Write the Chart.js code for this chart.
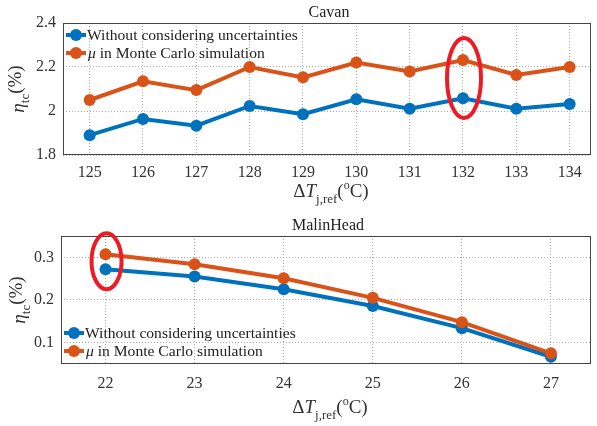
<!DOCTYPE html>
<html>
<head>
<meta charset="utf-8">
<script src="https://cdn.jsdelivr.net/npm/chart.js@4"></script>
<style>
  html, body { margin: 0; padding: 0; background: #fff; }
  #wrap { position: relative; width: 597px; height: 426px; overflow: hidden; }
  #c1 { position: absolute; left: 0; top: 0; }
  #c2 { position: absolute; left: 0; top: 200px; }
</style>
</head>
<body>
<div id="wrap">
  <canvas id="c1" width="597" height="212"></canvas>
  <canvas id="c2" width="597" height="226"></canvas>
</div>
<script>
// Cavan panel
const cavanX = [125, 126, 127, 128, 129, 130, 131, 132, 133, 134];
const cavanWithout = [1.890, 1.964, 1.933, 2.023, 1.985, 2.053, 2.010, 2.058, 2.010, 2.032];
const cavanMu = [2.050, 2.135, 2.095, 2.200, 2.153, 2.220, 2.180, 2.232, 2.164, 2.200];
const cavanYTicks = [1.8, 2, 2.2, 2.4];

// MalinHead panel
const malinX = [22, 23, 24, 25, 26, 27];
const malinWithout = [0.272, 0.255, 0.225, 0.186, 0.134, 0.067];
const malinMu = [0.307, 0.284, 0.251, 0.205, 0.148, 0.075];
const malinYTicks = [0.1, 0.2, 0.3];

const seriesNames = ['Without considering uncertainties', 'in Monte Carlo simulation'];

const BLUE = '#0072BD';
const ORANGE = '#D95319';
const SERIF = '"Liberation Serif", "Times New Roman", serif';
const TXT = '#333';

// draw a run of text pieces (font/offset per piece), centred on x
function drawRich(ctx, parts, x, y) {
    let total = 0;
    parts.forEach(p => { ctx.font = p.font; total += ctx.measureText(p.t).width; });
    let cx = x - total / 2;
    ctx.textAlign = 'left';
    ctx.textBaseline = 'alphabetic';
    parts.forEach(p => {
        ctx.font = p.font;
        ctx.fillText(p.t, cx, y + (p.dy || 0));
        cx += ctx.measureText(p.t).width;
    });
}

const xTitleParts = [
    { t: '\u0394', font: '19px ' + SERIF },
    { t: 'T', font: 'italic 19px ' + SERIF },
    { t: 'j,ref', font: '13px ' + SERIF, dy: 6 },
    { t: '(', font: '19px ' + SERIF },
    { t: 'o', font: '12px ' + SERIF, dy: -8 },
    { t: 'C)', font: '19px ' + SERIF },
];
const yTitleParts = [
    { t: '\u03B7', font: 'italic 19px ' + SERIF },
    { t: 'tc', font: '13px ' + SERIF, dy: 5 },
    { t: '(%)', font: '19px ' + SERIF, dy: -3 },
];

function makeDecor(opts) {
    return {
        id: 'decor',
        beforeDatasetsDraw(chart) {
            const { ctx, chartArea: a } = chart;
            ctx.save();
            ctx.strokeStyle = '#444';
            ctx.lineWidth = 1;
            ctx.strokeRect(a.left + 0.5, a.top + 0.5, a.right - a.left - 1, a.bottom - a.top - 1);
            ctx.restore();
        },
        afterDatasetsDraw(chart) {
            const { ctx, chartArea: a, scales } = chart;
            ctx.save();
            // red highlight ellipse
            const ex = scales.x.getPixelForValue(opts.ellipse.x);
            const ey = scales.y.getPixelForValue(opts.ellipse.y);
            ctx.strokeStyle = '#ED1C24';
            ctx.lineWidth = 4;
            ctx.beginPath();
            ctx.ellipse(ex + 1, ey, opts.ellipse.rx, opts.ellipse.ry, 0, 0, Math.PI * 2);
            ctx.stroke();

            // legend
            const lx = a.left + 3;
            const colors = [BLUE, ORANGE];
            colors.forEach((c, i) => {
                const ly = opts.legendY + i * 18;
                ctx.strokeStyle = c;
                ctx.lineWidth = 4;
                ctx.beginPath();
                ctx.moveTo(lx, ly);
                ctx.lineTo(lx + 20, ly);
                ctx.stroke();
                ctx.fillStyle = c;
                ctx.beginPath();
                ctx.arc(lx + 10, ly, 6, 0, Math.PI * 2);
                ctx.fill();
                ctx.fillStyle = '#222';
                ctx.textBaseline = 'middle';
                ctx.textAlign = 'left';
                if (i === 0) {
                    ctx.font = '15.6px ' + SERIF;
                    ctx.fillText(seriesNames[0], lx + 21, ly + 1);
                } else {
                    ctx.font = 'italic 15.6px ' + SERIF;
                    ctx.fillText('\u03BC', lx + 22, ly + 1);
                    const w = ctx.measureText('\u03BC ').width;
                    ctx.font = '15.6px ' + SERIF;
                    ctx.fillText(seriesNames[1], lx + 22 + w, ly + 1);
                }
            });

            // panel title
            ctx.fillStyle = '#222';
            ctx.font = '16px ' + SERIF;
            ctx.textAlign = 'center';
            ctx.textBaseline = 'alphabetic';
            ctx.fillText(opts.title, (a.left + a.right) / 2 + 2, a.top - 6);

            // axis titles
            ctx.fillStyle = TXT;
            drawRich(ctx, xTitleParts, (a.left + a.right) / 2 + 4, opts.xTitleY);
            ctx.translate(opts.yTitleX, (a.top + a.bottom) / 2);
            ctx.rotate(-Math.PI / 2);
            drawRich(ctx, yTitleParts, 0, 0);
            ctx.restore();
        }
    };
}

function buildChart(canvas, cfg) {
    return new Chart(canvas, {
        type: 'line',
        data: {
            datasets: [{
                label: seriesNames[1],
                data: cfg.xs.map((x, i) => ({ x: x, y: cfg.mu[i] })),
                borderColor: ORANGE,
                backgroundColor: ORANGE,
                borderWidth: 4,
                pointRadius: 6,
                pointBorderWidth: 0,
                tension: 0,
            }, {
                label: seriesNames[0],
                data: cfg.xs.map((x, i) => ({ x: x, y: cfg.without[i] })),
                borderColor: BLUE,
                backgroundColor: BLUE,
                borderWidth: 4,
                pointRadius: 6,
                pointBorderWidth: 0,
                tension: 0,
            }],
        },
        options: {
            responsive: false,
            animation: false,
            layout: { padding: { top: cfg.top, right: 5, left: 0, bottom: 0 } },
            plugins: {
                legend: { display: false },
                tooltip: { enabled: false },
                title: { display: false },
            },
            scales: {
                x: {
                    type: 'linear',
                    min: cfg.xMin,
                    max: cfg.xMax,
                    afterBuildTicks: s => { s.ticks = cfg.xs.map(v => ({ value: v })); },
                    afterFit: s => { s.height = cfg.xHeight; },
                    ticks: {
                        color: TXT,
                        font: { family: SERIF, size: 16 },
                        padding: cfg.xPad,
                        maxRotation: 0,
                        callback: v => String(v),
                    },
                    grid: { color: '#aaa', drawTicks: false, lineWidth: 1 },
                    border: { display: false, dash: [1, 2] },
                },
                y: {
                    min: cfg.yMin,
                    max: cfg.yMax,
                    afterBuildTicks: s => { s.ticks = cfg.yTicks.map(v => ({ value: v })); },
                    afterFit: s => { s.width = cfg.yWidth; },
                    ticks: {
                        color: TXT,
                        font: { family: SERIF, size: 16 },
                        padding: 7,
                        callback: v => String(+v.toFixed(2)),
                    },
                    grid: { color: '#aaa', drawTicks: false, lineWidth: 1 },
                    border: { display: false, dash: [1, 2] },
                },
            },
        },
        plugins: [makeDecor(cfg.decor)],
    });
}

buildChart(document.getElementById('c1'), {
    xs: cavanX, without: cavanWithout, mu: cavanMu, yTicks: cavanYTicks,
    xMin: 124.5, xMax: 134.4, yMin: 1.8, yMax: 2.4,
    top: 23, xHeight: 57, yWidth: 63, xPad: 8,
    decor: {
        title: 'Cavan', legendY: 35, xTitleY: 197, yTitleX: 24,
        ellipse: { x: 132, y: 2.15, rx: 17, ry: 40 },
    },
});

buildChart(document.getElementById('c2'), {
    xs: malinX, without: malinWithout, mu: malinMu, yTicks: malinYTicks,
    xMin: 21.5, xMax: 27.45, yMin: 0.05, yMax: 0.35,
    top: 36, xHeight: 62, yWidth: 61, xPad: 10,
    decor: {
        title: 'MalinHead', legendY: 133, xTitleY: 213, yTitleX: 25,
        ellipse: { x: 22, y: 0.291, rx: 15, ry: 28 },
    },
});
</script>
</body>
</html>
